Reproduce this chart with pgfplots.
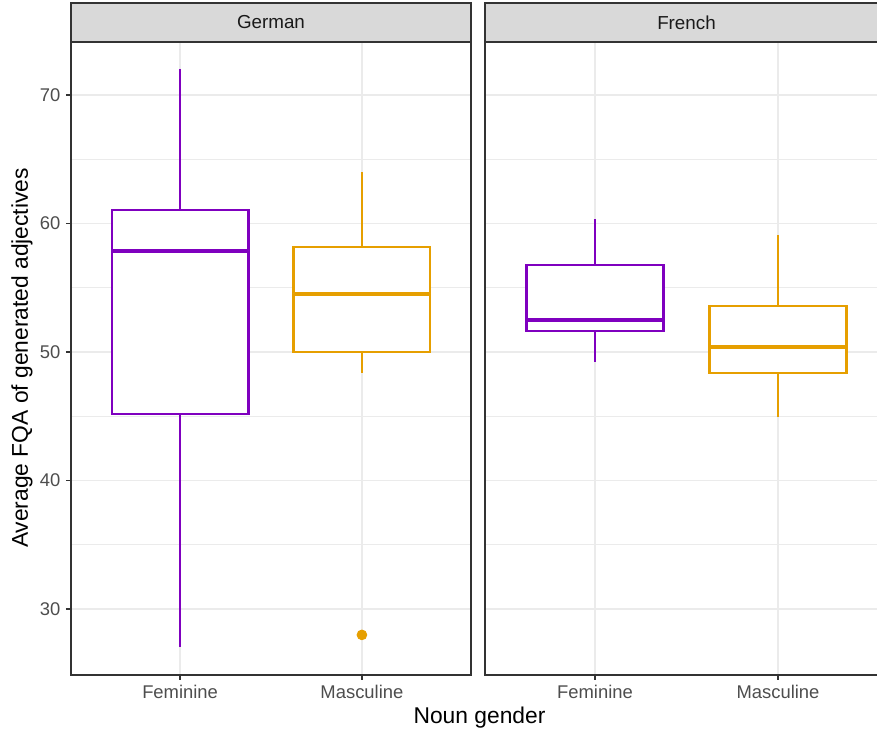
\documentclass[border=0pt]{standalone}
\usepackage{fontspec}
\setmainfont{Liberation Sans}
\usepackage{pgfplots}
\pgfplotsset{compat=1.18}
\usepgfplotslibrary{statistics}
\definecolor{purp}{RGB}{127,0,191}
\definecolor{orng}{RGB}{230,159,0}
\definecolor{gridc}{RGB}{235,235,235}
\definecolor{framec}{RGB}{51,51,51}
\definecolor{tickc}{RGB}{77,77,77}
\definecolor{stripc}{RGB}{217,217,217}
\definecolor{striptext}{RGB}{26,26,26}
\pgfplotsset{
  facet/.style={
    scale only axis, height=316.5pt,
    xmin=0.4, xmax=2.6, ymin=24.86, ymax=74.12,
    xtick={1,2}, xticklabels={Feminine,Masculine},
    ytick={30,40,50,60,70}, minor ytick={35,45,55,65},
    grid=both,
    major grid style={gridc, line width=0.9pt},
    minor grid style={gridc, line width=0.45pt},
    axis line style={framec, line width=0.9pt},
    tick style={framec, line width=0.9pt},
    major tick length=2.5pt, minor tick length=0pt,
    tick align=outside, tick pos=left,
    ticklabel style={font=\fontsize{9.2}{10}\selectfont, text=tickc},
    yticklabel style={inner sep=2.6pt},
    xticklabel style={inner sep=2.4pt},
    /pgf/number format/assume math mode=true,
    clip=false,
    boxplot/draw direction=y,
    boxplot/box extend=0.75, boxplot/whisker extend=0,
    boxplot/every median/.style={line width=2.4pt},
    boxplot/every whisker/.style={line width=1.35pt},
    boxplot/every box/.style={line width=1.35pt},
  },
}
\begin{document}
\begin{tikzpicture}
\useasboundingbox (0,0) rectangle (438.5pt,365.5pt);
\clip (0,0) rectangle (438.5pt,365.5pt);
% German panel
\begin{axis}[facet, width=200pt, at={(35.5pt,28pt)}, anchor=south west]
\addplot+[boxplot prepared={draw position=1, lower whisker=27.04, lower quartile=45.18,
  median=57.86, upper quartile=61.05, upper whisker=72.0},
  draw=purp, solid, line width=1.35pt, fill=white, mark=none] coordinates {};
\addplot+[boxplot prepared={draw position=2, lower whisker=48.37, lower quartile=50.0,
  median=54.51, upper quartile=58.17, upper whisker=64.0},
  draw=orng, solid, line width=1.35pt, fill=white,
  mark=*, mark size=2.4pt, mark options={fill=orng, draw=orng, line width=0.5pt}] coordinates {(0,27.98)};
\draw[framec, line width=0.9pt, fill=stripc] (rel axis cs:0,1) rectangle ([yshift=19.5pt]rel axis cs:1,1);
\node[text=striptext, font=\fontsize{9.4}{10}\selectfont] at ([yshift=9.75pt]rel axis cs:0.5,1) {German};
\end{axis}
% French panel
\begin{axis}[facet, width=201.3pt, at={(242.6pt,28pt)}, anchor=south west,
  yticklabels={}, ytick style={draw=none}]
\addplot+[boxplot prepared={draw position=1, lower whisker=49.22, lower quartile=51.63,
  median=52.49, upper quartile=56.77, upper whisker=60.35},
  draw=purp, solid, line width=1.35pt, fill=white, mark=none] coordinates {};
\addplot+[boxplot prepared={draw position=2, lower whisker=44.94, lower quartile=48.37,
  median=50.39, upper quartile=53.58, upper whisker=59.11},
  draw=orng, solid, line width=1.35pt, fill=white, mark=none] coordinates {};
\draw[framec, line width=0.9pt, fill=stripc] (rel axis cs:0,1) rectangle ([yshift=19.5pt]rel axis cs:1,1);
\node[text=striptext, font=\fontsize{9.4}{10}\selectfont] at ([yshift=9.75pt]rel axis cs:0.5,1) {French};
\end{axis}
\node[font=\fontsize{11.4}{13}\selectfont] at (239.75pt,6.5pt) {Noun gender};
\node[font=\fontsize{11.4}{13}\selectfont, rotate=90] at (11pt,186.5pt) {Average FQA of generated adjectives};
\end{tikzpicture}
\end{document}
